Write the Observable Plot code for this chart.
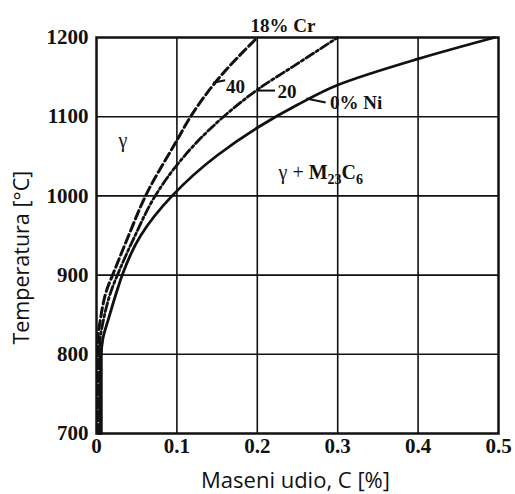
<!DOCTYPE html>
<html><head><meta charset="utf-8">
<script src="https://cdn.jsdelivr.net/npm/d3@7"></script>
<script src="https://cdn.jsdelivr.net/npm/@observablehq/plot@0.6"></script>
<style>body{margin:0;background:#fff;} #chart svg{display:block;}</style>
</head><body><div id="chart"></div>
<script>
// Tick values
const xTicks = [0, 0.1, 0.2, 0.3, 0.4, 0.5];
const xTickLabels = ["0", "0.1", "0.2", "0.3", "0.4", "0.5"];
const yTicks = [700, 800, 900, 1000, 1100, 1200];

// 0% Ni (solid)
const carbonNi0 = [0.006, 0.006, 0.008, 0.015, 0.027, 0.032, 0.055, 0.094, 0.15, 0.2, 0.25, 0.3, 0.4, 0.495];
const tempNi0   = [700, 800, 820, 845, 885, 900, 950, 1000, 1051, 1086, 1115, 1140, 1173, 1200];
// 20% Ni (dash-dot)
const carbonNi20 = [0.004, 0.004, 0.009, 0.020, 0.026, 0.048, 0.073, 0.1, 0.158, 0.2, 0.25, 0.3];
const tempNi20   = [700, 810, 845, 885, 900, 950, 1000, 1039, 1100, 1134, 1167, 1200];
// 40% Ni (dashed)
const carbonNi40 = [0.002, 0.002, 0.005, 0.014, 0.020, 0.040, 0.061, 0.1, 0.117, 0.15, 0.2];
const tempNi40   = [700, 820, 845, 885, 900, 950, 1000, 1070, 1100, 1146, 1200];

// Curve labels
const labelText = ["18% Cr", "40", "20", "0% Ni"];
const labelX = [0.232, 0.173, 0.237, 0.323];
const labelY = [1215, 1138, 1131, 1117];

// Leader lines (from curve to label)
const leaderX1 = [0.145, 0.2, 0.261];
const leaderY1 = [1143, 1133, 1123];
const leaderX2 = [0.160, 0.222, 0.285];
const leaderY2 = [1146, 1133, 1118];

// Region labels
const regionText = ["γ", "γ + M23C6"];
const regionX = [0.033, 0.279];
const regionY = [1070, 1030];

// Axis titles
const yTitle = "Temperatura [°C]";
const xTitle = "Maseni udio, C [%]";

const toPts = (xs, ys) => xs.map((x, i) => ({x, y: ys[i]}));
const c0 = toPts(carbonNi0, tempNi0);
const c20 = toPts(carbonNi20, tempNi20);
const c40 = toPts(carbonNi40, tempNi40);
const labels = labelText.map((t, i) => ({t, x: labelX[i], y: labelY[i]}));
const leaders = leaderX1.map((x1, i) => ({x1, y1: leaderY1[i], x2: leaderX2[i], y2: leaderY2[i]}));
const regions = regionText.map((t, i) => ({t, x: regionX[i], y: regionY[i]}));

const ink = "#111";
const serif = "'Liberation Serif', 'Times New Roman', serif";
const sans = "'Open Sans', 'Noto Sans', sans-serif";

const chart = Plot.plot({
  width: 515,
  height: 494,
  marginLeft: 96,
  marginRight: 17,
  marginTop: 37,
  marginBottom: 61,
  style: {background: "#fff", color: ink},
  x: {domain: [0, 0.5], ticks: xTicks},
  y: {domain: [700, 1200], ticks: yTicks},
  marks: [
    Plot.gridX(xTicks.slice(1, -1), {stroke: ink, strokeOpacity: 1, strokeWidth: 1.6}),
    Plot.gridY(yTicks.slice(1, -1), {stroke: ink, strokeOpacity: 1, strokeWidth: 1.6}),
    Plot.line(c0, {x: "x", y: "y", curve: "monotone-y", stroke: ink, strokeWidth: 2.8}),
    Plot.line(c20, {x: "x", y: "y", curve: "monotone-y", stroke: ink, strokeWidth: 2.8, strokeDasharray: "9,3,2.5,3"}),
    Plot.line(c40, {x: "x", y: "y", curve: "monotone-y", stroke: ink, strokeWidth: 3, strokeDasharray: "9,4"}),
    Plot.link(leaders, {x1: "x1", y1: "y1", x2: "x2", y2: "y2", stroke: ink, strokeWidth: 2}),
    Plot.text(labels, {x: "x", y: "y", text: "t", fontFamily: serif, fontWeight: "bold", fontSize: 19, fill: ink}),
    Plot.text(regions, {x: "x", y: "y", text: "t", fontFamily: serif, fontSize: 20, fill: ink}),
    Plot.frame({stroke: ink, strokeWidth: 2.5}),
    Plot.axisX(xTicks, {tickSize: 0, tickPadding: 5, tickFormat: (d, i) => xTickLabels[i], fontFamily: serif, fontWeight: "bold", fontSize: 21, fill: ink, label: null}),
    Plot.axisY(yTicks, {tickSize: 0, tickPadding: 8, tickFormat: d => String(d), fontFamily: serif, fontWeight: "bold", fontSize: 21, fill: ink, label: null}),
    Plot.text([yTitle], {frameAnchor: "left", y: () => 922, dx: -74, rotate: -90, textAnchor: "middle", lineAnchor: "middle", fontFamily: sans, fontSize: 21.5, fill: ink}),
    Plot.text([xTitle], {frameAnchor: "bottom", dy: 47, dx: -2, textAnchor: "middle", lineAnchor: "middle", fontFamily: sans, fontSize: 22, fill: ink})
  ]
});

document.getElementById("chart").appendChild(chart);

// Render subscripts in the phase label
d3.select(chart).selectAll("text").filter(function() { return this.textContent === "γ + M23C6"; })
  .each(function() {
    const t = d3.select(this);
    t.text("");
    t.append("tspan").text("γ + ");
    t.append("tspan").attr("font-weight", "bold").text("M");
    t.append("tspan").attr("font-weight", "bold").attr("font-size", 14).attr("dy", 5).text("23");
    t.append("tspan").attr("font-weight", "bold").attr("dy", -5).text("C");
    t.append("tspan").attr("font-weight", "bold").attr("font-size", 14).attr("dy", 5).text("6");
  });
</script>
</body></html>
